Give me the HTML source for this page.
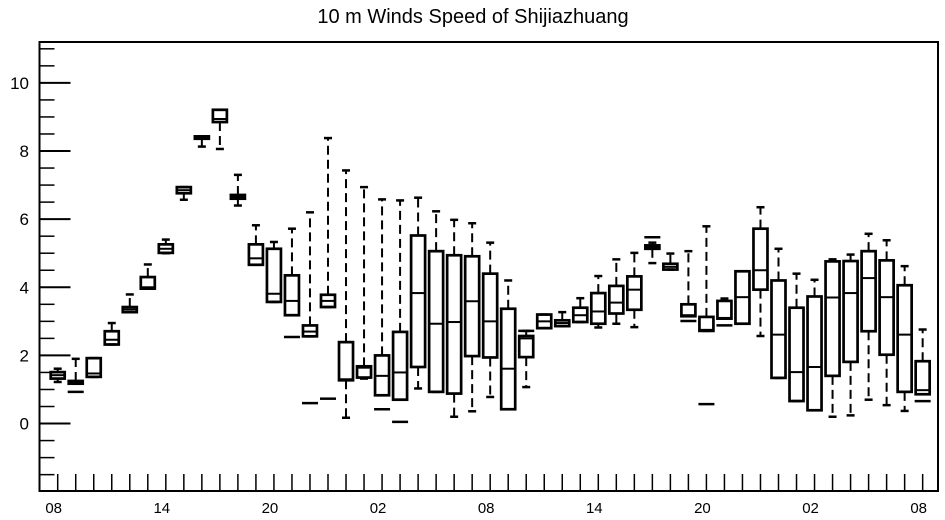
<!DOCTYPE html>
<html><head><meta charset="utf-8"><style>
body{margin:0;background:#fff;}
svg{display:block;font-family:"Liberation Sans",sans-serif;}
</style></head><body>
<svg id="chart" width="945" height="520" viewBox="0 0 945 520" xmlns="http://www.w3.org/2000/svg">
<text x="473" y="23" text-anchor="middle" font-size="20">10 m Winds Speed of Shijiazhuang</text>
<g id="plot"></g>
</svg>
<script>
const hours = [0,1,2,3,4,5,6,7,8,9,10,11,12,13,14,15,16,17,18,19,20,21,22,23,24,25,26,27,28,29,30,31,32,33,34,35,36,37,38,39,40,41,42,43,44,45,46,47,48];
const whiskerHigh = [1.61,1.9,1.92,2.95,3.79,4.67,5.4,6.94,8.43,9.21,7.3,5.82,5.33,5.72,6.2,8.38,7.43,6.94,6.58,6.55,6.63,6.23,5.98,5.88,5.31,4.2,2.72,3.2,3.27,3.68,4.33,4.82,5.01,5.31,4.99,5.06,5.79,3.67,4.47,6.35,5.13,4.4,4.22,4.82,4.96,5.57,5.38,4.62,2.76];
const q3 = [1.51,1.25,1.92,2.71,3.42,4.3,5.26,6.94,8.43,9.21,6.71,5.26,5.13,4.35,2.88,3.78,2.39,1.68,2.0,2.69,5.52,5.06,4.94,4.91,4.4,3.37,2.57,3.2,3.03,3.4,3.83,4.04,4.32,5.23,4.69,3.5,3.13,3.6,4.47,5.72,4.2,3.4,3.73,4.76,4.77,5.06,4.79,4.06,1.83];
const median = [1.42,1.2,1.47,2.46,3.35,4.0,5.13,6.85,8.4,8.94,6.65,4.85,3.81,3.6,2.7,3.6,1.3,1.64,1.4,1.5,3.83,2.93,2.98,3.59,3.0,1.61,2.5,3.0,2.95,3.18,3.29,3.55,3.93,5.18,4.6,3.18,2.75,3.1,3.71,4.5,2.61,1.51,1.66,3.7,3.83,4.27,3.71,2.61,0.98];
const q1 = [1.32,1.17,1.37,2.32,3.27,3.96,5.01,6.76,8.36,8.85,6.6,4.66,3.57,3.18,2.56,3.42,1.27,1.35,0.83,0.7,1.66,0.93,0.88,1.98,1.94,0.42,1.95,2.8,2.86,2.98,2.93,3.23,3.34,5.13,4.52,3.15,2.72,3.08,2.93,3.93,1.34,0.66,0.39,1.4,1.81,2.71,2.02,0.93,0.86];
const whiskerLow = [1.22,1.17,1.37,2.32,3.27,3.96,5.0,6.57,8.13,8.06,6.4,4.66,3.57,3.18,2.56,3.42,0.17,1.32,0.83,0.7,1.03,0.93,0.2,0.36,0.78,0.42,1.07,2.8,2.86,2.98,2.82,2.93,2.83,4.71,4.52,3.15,2.72,3.08,2.93,2.57,1.34,0.66,0.39,0.2,0.24,0.7,0.54,0.37,0.86];
const extraMark = [null,0.93,null,null,null,null,null,null,null,null,null,null,null,2.54,0.6,0.73,null,null,0.42,0.05,null,null,null,null,null,null,2.72,null,null,null,null,null,null,5.47,null,3.01,0.57,2.88,null,null,null,null,null,null,null,null,null,null,0.66];
const yTickValues = [0,2,4,6,8,10];
const xTickLabels = ["08","14","20","02","08","14","20","02","08"];

const L=39.5, R=938, T=42, B=491;
const yMin=-1.98, yMax=11.2;
const xScale = h => 57.7 + h*18.02;
const yScale = v => B - (v - yMin)/(yMax - yMin)*(B - T);
const NS="http://www.w3.org/2000/svg";
const g=document.getElementById('plot');
function mk(tag, attrs){const e=document.createElementNS(NS,tag);for(const k in attrs)e.setAttribute(k,attrs[k]);g.appendChild(e);return e;}

const frame=mk('rect',{x:L,y:T,width:R-L,height:B-T,fill:'none',stroke:'#000','stroke-width':2});



for(let v=-1.5; v<=11.01; v+=0.5){
  const major = Math.abs(v/2-Math.round(v/2))<1e-6;
  const t=mk('line',{x1:L,x2:L+(major?31:15),y1:yScale(v),y2:yScale(v),stroke:'#000','stroke-width':major?2:1.5});
  
  
}
yTickValues.forEach(v=>{
  const t=mk('text',{x:29,y:yScale(v)+6,'text-anchor':'end','font-size':17});
  t.textContent=v;
  
  
});
hours.forEach(h=>{
  const t=mk('line',{x1:xScale(h),x2:xScale(h),y1:B,y2:B-17,stroke:'#000','stroke-width':1.5});
  
  
});
xTickLabels.forEach((s,i)=>{
  const t=mk('text',{x:xScale(i*6)-4,y:513,'text-anchor':'middle','font-size':15});
  t.textContent=s;
  
  
});
const bw=14, cw=4;
hours.forEach((h,i)=>{
  const x=xScale(h);
  const wu=mk('line',{x1:x,x2:x,y1:yScale(q3[i]),y2:yScale(whiskerHigh[i]),stroke:'#000','stroke-width':2,'stroke-dasharray':'9,5'});
  
  
  const wl=mk('line',{x1:x,x2:x,y1:yScale(q1[i]),y2:yScale(whiskerLow[i]),stroke:'#000','stroke-width':2,'stroke-dasharray':'9,5'});
  
  
  const cu=mk('line',{x1:x-cw,x2:x+cw,y1:yScale(whiskerHigh[i]),y2:yScale(whiskerHigh[i]),stroke:'#000','stroke-width':2.5});
  
  
  const cl=mk('line',{x1:x-cw,x2:x+cw,y1:yScale(whiskerLow[i]),y2:yScale(whiskerLow[i]),stroke:'#000','stroke-width':2.5});
  
  
  const y3=yScale(q3[i]), y1=yScale(q1[i]);
  const b=mk('rect',{x:x-bw/2,y:y3,width:bw,height:Math.max(y1-y3,1),fill:'none',stroke:'#000','stroke-width':2.7});
  
  
  const m=mk('line',{x1:x-bw/2,x2:x+bw/2,y1:yScale(median[i]),y2:yScale(median[i]),stroke:'#000','stroke-width':2});
  
  
  if(extraMark[i]!==null){
    const e=mk('line',{x1:x-bw/2-1,x2:x+bw/2+1,y1:yScale(extraMark[i]),y2:yScale(extraMark[i]),stroke:'#000','stroke-width':2.5});
    
    
  }
});
</script>
</body></html>
